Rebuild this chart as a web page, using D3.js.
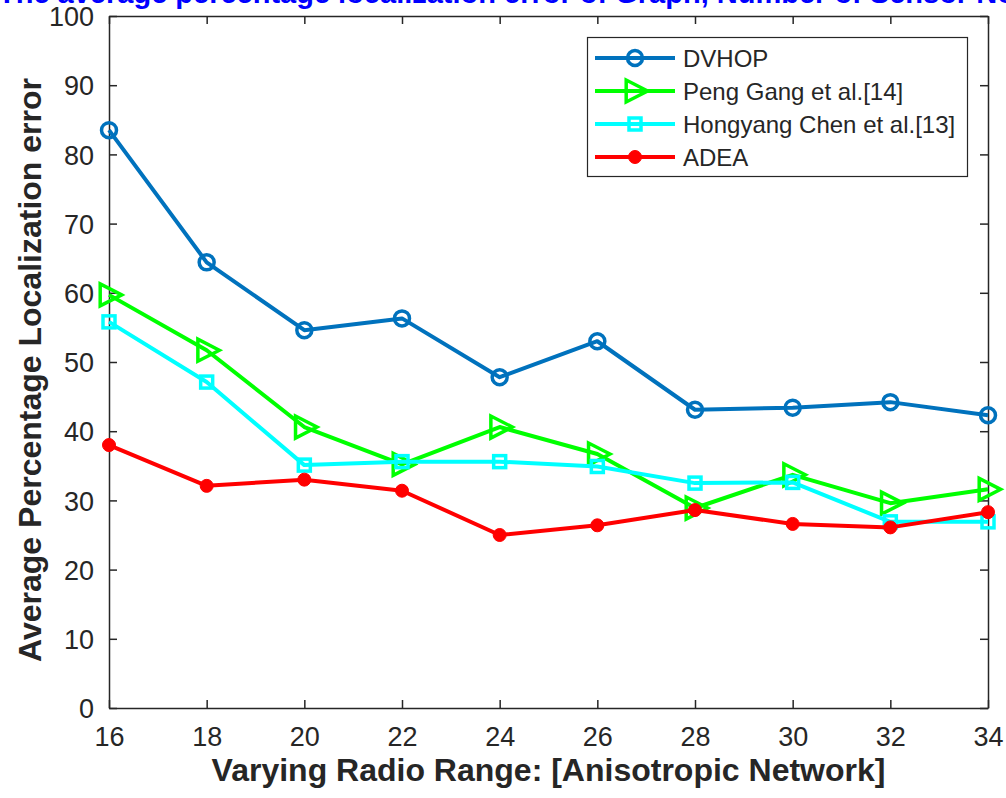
<!DOCTYPE html>
<html>
<head>
<meta charset="utf-8">
<script src="https://cdn.jsdelivr.net/npm/d3@7"></script>
<style>
  html, body { margin: 0; padding: 0; background: #fff; }
  svg { display: block; font-family: "Liberation Sans", Arial, sans-serif; }
</style>
</head>
<body>
<svg id="chart" width="1006" height="798"></svg>
<script>
// Radio range values (x axis)
const radioRange = [16, 18, 20, 22, 24, 26, 28, 30, 32, 34];

// Average percentage localization error per method
const dvhop    = [83.5, 64.4, 54.6, 56.3, 47.8, 53.0, 43.1, 43.4, 44.2, 42.3];
const pengGang = [59.7, 51.7, 40.6, 35.2, 40.6, 36.7, 28.9, 33.7, 29.6, 31.6];
const hongyang = [55.8, 47.1, 35.1, 35.6, 35.6, 34.9, 32.5, 32.6, 26.9, 26.9];
const adea     = [38.0, 32.1, 33.0, 31.4, 25.0, 26.4, 28.6, 26.6, 26.1, 28.3];

const xTicks = [16, 18, 20, 22, 24, 26, 28, 30, 32, 34];
const yTicks = [0, 10, 20, 30, 40, 50, 60, 70, 80, 90, 100];

const seriesNames = ["DVHOP", "Peng Gang et al.[14]", "Hongyang Chen et al.[13]", "ADEA"];
const seriesColors = ["#0072BD", "#00FF00", "#00FFFF", "#FF0000"];
const seriesMarkers = ["circle", "triangle", "square", "dot"];
const seriesValues = [dvhop, pengGang, hongyang, adea];

const svg = d3.select("#chart");
const margin = { left: 109, right: 1006 - 988, top: 16, bottom: 798 - 708 };
const W = 1006, H = 798;

const x = d3.scaleLinear().domain([16, 34]).range([margin.left, W - margin.right]);
const y = d3.scaleLinear().domain([0, 100]).range([H - margin.bottom, margin.top]);

const axisColor = "#262626";
const narrow = "'Liberation Sans Narrow', 'Arial Narrow', 'Liberation Sans', Arial, sans-serif";

// Title (wider than the figure, so it runs past the page edges)
svg.append("text")
  .attr("x", -2).attr("y", 3)
  .attr("text-anchor", "start")
  .attr("fill", "#0000FF")
  .attr("font-weight", "bold")
  .attr("font-size", 29)
  .text("The average percentage localization error of Graph, Number of Sensor Nodes");

// Axes box with inward ticks on all sides
const tickLen = 8;
const gx = svg.append("g").attr("transform", `translate(0,${y(0)})`)
  .call(d3.axisBottom(x).tickValues(xTicks).tickSizeInner(-tickLen).tickSizeOuter(0).tickPadding(19));
const gxTop = svg.append("g").attr("transform", `translate(0,${y(100)})`)
  .call(d3.axisTop(x).tickValues(xTicks).tickSizeInner(-tickLen).tickSizeOuter(0).tickFormat(""));
const gy = svg.append("g").attr("transform", `translate(${x(16)},0)`)
  .call(d3.axisLeft(y).tickValues(yTicks).tickSizeInner(-tickLen).tickSizeOuter(0).tickPadding(15));
const gyRight = svg.append("g").attr("transform", `translate(${x(34)},0)`)
  .call(d3.axisRight(y).tickValues(yTicks).tickSizeInner(-tickLen).tickSizeOuter(0).tickFormat(""));

[gx, gxTop, gy, gyRight].forEach(g => {
  g.select(".domain").attr("stroke", axisColor).attr("stroke-width", 1.5);
  g.selectAll(".tick line").attr("stroke", axisColor).attr("stroke-width", 1.5);
  g.selectAll(".tick text").attr("fill", axisColor).attr("font-size", 27)
    .attr("font-family", narrow);
});
gx.selectAll(".tick text").attr("dy", "0.71em");
gy.selectAll(".tick text").attr("dy", "0.36em");

// Axis labels
svg.append("text")
  .attr("x", (x(16) + x(34)) / 2).attr("y", 781)
  .attr("text-anchor", "middle")
  .attr("fill", axisColor).attr("font-weight", "bold").attr("font-size", 32)
  .text("Varying Radio Range: [Anisotropic Network]");

svg.append("text")
  .attr("transform", `translate(41,${(y(0) + y(100)) / 2 + 8}) rotate(-90)`)
  .attr("text-anchor", "middle")
  .attr("fill", axisColor).attr("font-weight", "bold").attr("font-size", 32)
  .text("Average Percentage Localization error");

// Marker drawing helper
function drawMarker(g, type, color, cx, cy) {
  if (type === "circle") {
    g.append("circle").attr("cx", cx).attr("cy", cy).attr("r", 7.5)
      .attr("fill", "none").attr("stroke", color).attr("stroke-width", 3.5);
  } else if (type === "triangle") {
    const s = 11;
    g.append("path")
      .attr("d", `M${cx + s * 1.15},${cy} L${cx - s * 0.8},${cy - s} L${cx - s * 0.8},${cy + s} Z`)
      .attr("fill", "none").attr("stroke", color).attr("stroke-width", 3.5)
      .attr("stroke-linejoin", "miter");
  } else if (type === "square") {
    const s = 6;
    g.append("rect").attr("x", cx - s).attr("y", cy - s).attr("width", 2 * s).attr("height", 2 * s)
      .attr("fill", "none").attr("stroke", color).attr("stroke-width", 3.5);
  } else {
    g.append("circle").attr("cx", cx).attr("cy", cy).attr("r", 6.5)
      .attr("fill", color).attr("stroke", color).attr("stroke-width", 1);
  }
}

const line = d3.line().x(d => x(d[0])).y(d => y(d[1]));

seriesValues.forEach((vals, i) => {
  const pts = radioRange.map((r, k) => [r, vals[k]]);
  const g = svg.append("g");
  g.append("path").datum(pts).attr("d", line)
    .attr("fill", "none").attr("stroke", seriesColors[i]).attr("stroke-width", 4)
    .attr("stroke-linejoin", "round");
  pts.forEach(p => drawMarker(g, seriesMarkers[i], seriesColors[i], x(p[0]), y(p[1])));
});

// Legend
const legend = svg.append("g");
legend.append("rect").attr("x", 587.5).attr("y", 37.5).attr("width", 380).attr("height", 139)
  .attr("fill", "#fff").attr("stroke", axisColor).attr("stroke-width", 1.2);
const rowY = [58, 91, 124, 157];
seriesNames.forEach((name, i) => {
  const ly = rowY[i];
  legend.append("line").attr("x1", 595).attr("x2", 675).attr("y1", ly).attr("y2", ly)
    .attr("stroke", seriesColors[i]).attr("stroke-width", 4);
  drawMarker(legend, seriesMarkers[i], seriesColors[i], 635, ly);
  legend.append("text").attr("x", 683).attr("y", ly).attr("dy", "0.36em")
    .attr("fill", axisColor).attr("font-size", 24).text(name);
});
</script>
</body>
</html>
